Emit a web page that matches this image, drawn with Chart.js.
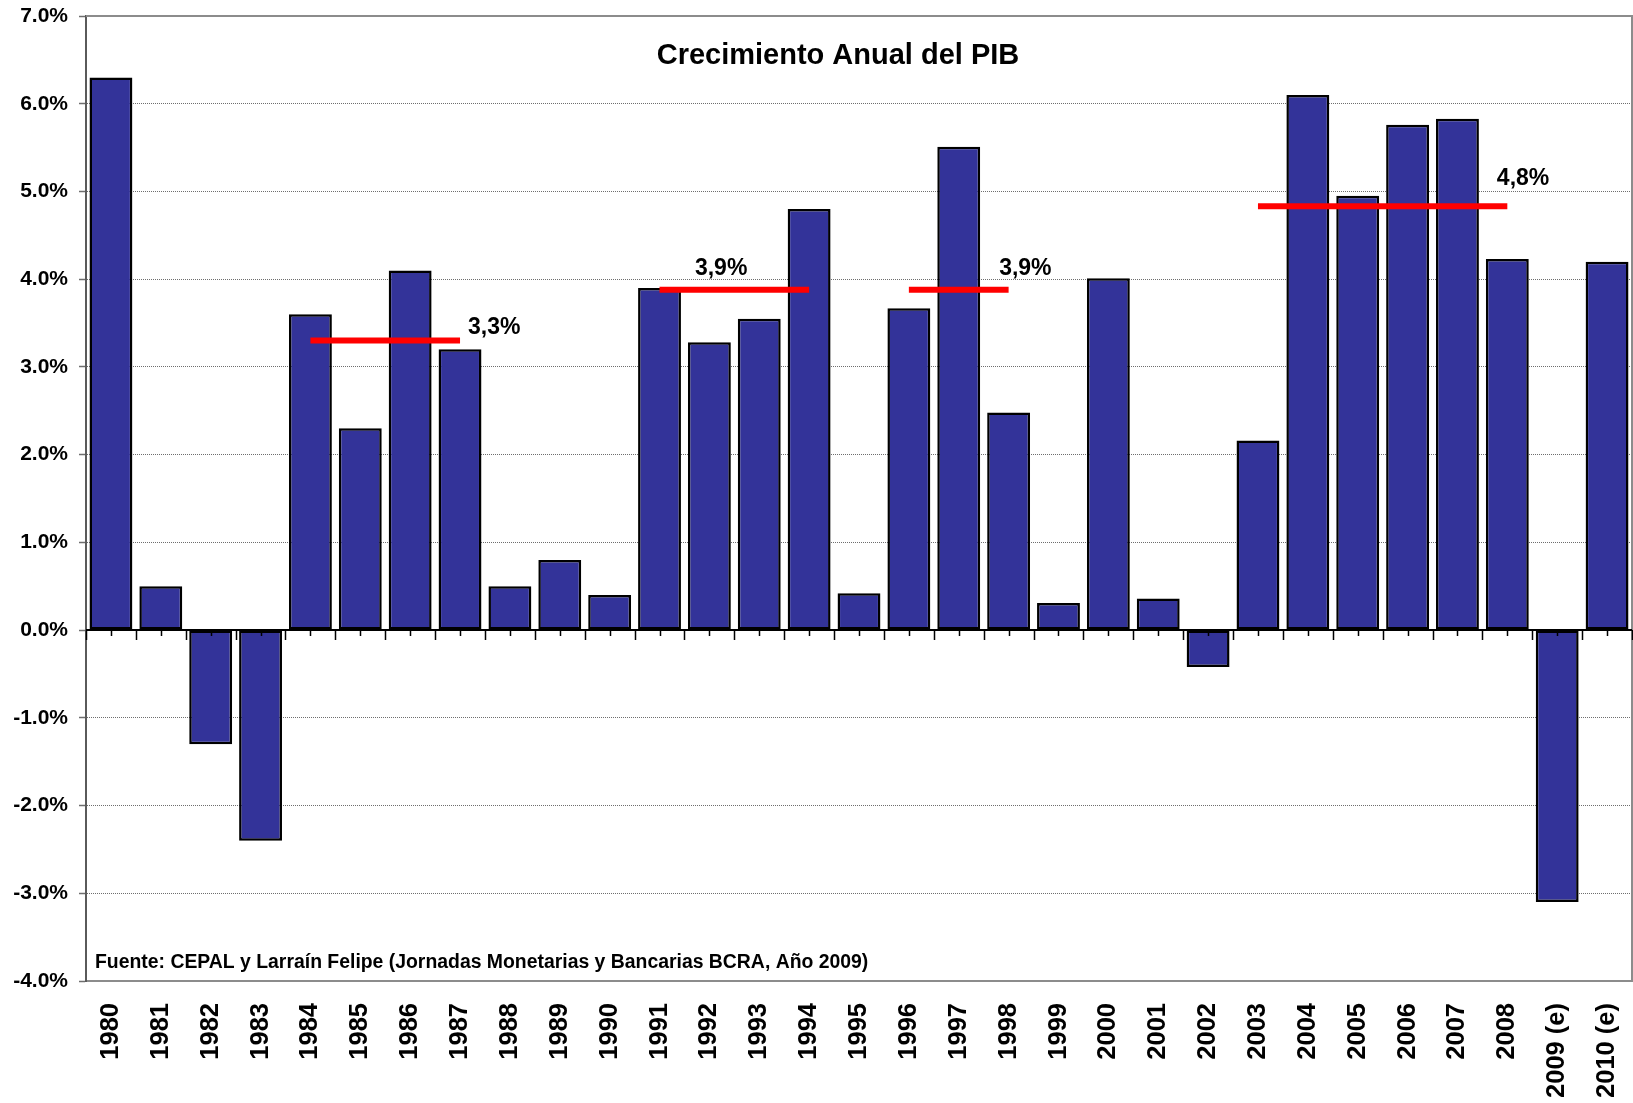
<!DOCTYPE html>
<html>
<head>
<meta charset="utf-8">
<title>Crecimiento Anual del PIB</title>
<script src="https://cdn.jsdelivr.net/npm/chart.js@4/dist/chart.umd.min.js"></script>
<style>
  html, body { margin: 0; padding: 0; background: #fff; }
  #chart { display: block; }
</style>
</head>
<body>
<canvas id="chart" width="1633" height="1103"></canvas>
<script>
// ---- data ----
const years = ['1980', '1981', '1982', '1983', '1984', '1985', '1986', '1987', '1988', '1989',
  '1990', '1991', '1992', '1993', '1994', '1995', '1996', '1997', '1998', '1999',
  '2000', '2001', '2002', '2003', '2004', '2005', '2006', '2007', '2008', '2009 (e)', '2010 (e)'];

const growth = [6.3, 0.5, -1.3, -2.4, 3.6, 2.3, 4.1, 3.2, 0.5, 0.8,
  0.4, 3.9, 3.28, 3.55, 4.8, 0.42, 3.67, 5.51, 2.48, 0.31,
  4.01, 0.36, -0.42, 2.16, 6.1, 4.95, 5.76, 5.83, 4.23, -3.1, 4.2];

// period averages (red lines)
const avgFrom = ['1984', '1991', '1996', '2003'];
const avgTo = ['1987', '1994', '1998', '2008'];
const avgValue = [3.3, 3.88, 3.88, 4.83];
const avgText = ['3,3%', '3,9%', '3,9%', '4,8%'];
// where each average label sits (category index, value)
const avgLabelX = [7.16, 11.71, 17.81, 27.79];
const avgLabelY = [3.37, 4.05, 4.05, 5.07];

const yTickLabels = ['-4.0%', '-3.0%', '-2.0%', '-1.0%', '0.0%', '1.0%', '2.0%', '3.0%', '4.0%', '5.0%', '6.0%', '7.0%'];

const titleText = 'Crecimiento Anual del PIB';
const sourceText = 'Fuente: CEPAL y Larraín Felipe (Jornadas Monetarias y Bancarias BCRA, Año 2009)';

// ---- build datasets ----
const FONT = '"Liberation Sans", Arial, Helvetica, sans-serif';

const avgDatasets = avgFrom.map((from, k) => {
  const i0 = years.indexOf(from);
  const i1 = years.indexOf(avgTo[k]);
  return {
    type: 'line',
    label: 'Promedio ' + avgText[k],
    data: years.map((y, i) => (i >= i0 && i <= i1) ? avgValue[k] : null),
    borderColor: '#ff0000',
    borderWidth: 6,
    borderCapStyle: 'butt',
    pointRadius: 0,
    fill: false,
    spanGaps: false,
    order: 0
  };
});

function noPadding(scale) {
  scale.paddingLeft = 0;
  scale.paddingRight = 0;
  scale.paddingTop = 0;
  scale.paddingBottom = 0;
}

// extra drawing: title, source, labels, frame, zero axis with ticks
const overlay = {
  id: 'overlay',
  afterDatasetsDraw(chart) {
    const ctx = chart.ctx;
    const x = chart.scales.x;
    const y = chart.scales.y;
    const area = chart.chartArea;
    ctx.save();

    // top and right frame
    ctx.strokeStyle = '#8c8c8c';
    ctx.lineWidth = 2;
    ctx.beginPath();
    ctx.moveTo(area.left, area.top);
    ctx.lineTo(area.right, area.top);
    ctx.lineTo(area.right, area.bottom);
    ctx.stroke();

    // zero axis
    const y0 = Math.round(y.getPixelForValue(0));
    ctx.strokeStyle = '#000';
    ctx.lineWidth = 2;
    ctx.beginPath();
    ctx.moveTo(area.left, y0);
    ctx.lineTo(area.right, y0);
    ctx.stroke();

    // tick marks on zero axis
    ctx.lineWidth = 1.5;
    ctx.beginPath();
    for (let i = 0; i <= years.length; i++) {
      const px = Math.round(x.getPixelForValue(i - 0.5)) + 0.5;
      ctx.moveTo(px, y0);
      ctx.lineTo(px, y0 + 10);
    }
    for (let i = 0; i < years.length; i++) {
      const px = Math.round(x.getPixelForValue(i)) + 0.5;
      ctx.moveTo(px, y0);
      ctx.lineTo(px, y0 + 6);
    }
    ctx.stroke();

    // average labels
    ctx.fillStyle = '#000';
    ctx.font = 'bold 23px ' + FONT;
    ctx.textAlign = 'left';
    ctx.textBaseline = 'alphabetic';
    avgText.forEach((t, k) => {
      ctx.fillText(t, x.getPixelForValue(avgLabelX[k]), y.getPixelForValue(avgLabelY[k]));
    });

    // title
    ctx.font = 'bold 29px ' + FONT;
    ctx.textAlign = 'center';
    ctx.fillText(titleText, 838, 64);

    // source
    ctx.font = 'bold 19.4px ' + FONT;
    ctx.textAlign = 'left';
    ctx.fillText(sourceText, area.left + 9, 968);

    ctx.restore();
  }
};

const chart = new Chart(document.getElementById('chart'), {
  type: 'bar',
  data: {
    labels: years,
    datasets: [
      {
        label: 'Crecimiento del PIB',
        data: growth,
        backgroundColor: '#333399',
        borderColor: '#000000',
        borderWidth: 2.5,
        borderSkipped: false,
        barPercentage: 0.86,
        categoryPercentage: 1.0,
        order: 1
      },
      ...avgDatasets
    ]
  },
  options: {
    responsive: false,
    animation: false,
    devicePixelRatio: 1,
    layout: { padding: { top: 16, right: 1, left: 0, bottom: 0 } },
    plugins: {
      legend: { display: false },
      title: { display: false },
      tooltip: { enabled: false }
    },
    scales: {
      x: {
        grid: { display: false, drawTicks: false },
        border: { display: true, color: '#8c8c8c', width: 2 },
        ticks: {
          color: '#000',
          font: { family: FONT, size: 25.5, weight: 'bold' },
          minRotation: 90,
          maxRotation: 90,
          autoSkip: false,
          padding: 22
        },
        afterFit(scale) { scale.height = 122; noPadding(scale); }
      },
      y: {
        min: -4,
        max: 7,
        grid: {
          color: (c) => (c.tick && (c.tick.value === 0 || c.tick.value === 7 || c.tick.value === -4)) ? 'rgba(0,0,0,0)' : '#6e6e6e',
          lineWidth: 1,
          drawTicks: true,
          tickLength: 7,
          tickColor: '#6e6e6e',
          tickWidth: 1.5
        },
        border: { display: true, color: '#5a5a5a', width: 2, dash: [1, 1] },
        ticks: {
          stepSize: 1,
          color: '#000',
          padding: 11,
          font: { family: FONT, size: 21, weight: 'bold' },
          callback: (v) => yTickLabels[Math.round(v) + 4]
        },
        afterFit(scale) { scale.width = 86; noPadding(scale); }
      }
    }
  },
  plugins: [overlay]
});
</script>
</body>
</html>
